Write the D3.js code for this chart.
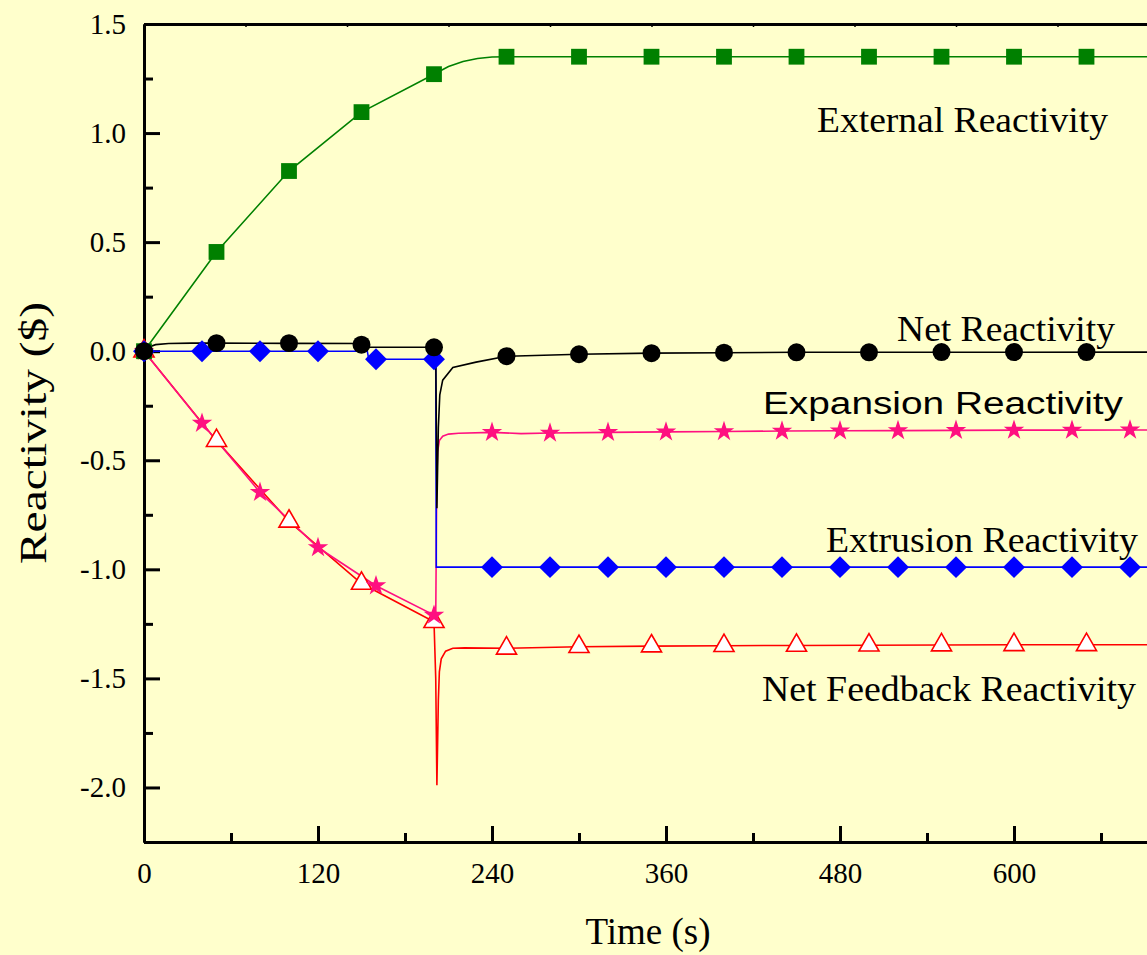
<!DOCTYPE html>
<html>
<head>
<meta charset="utf-8">
<script src="https://cdn.jsdelivr.net/npm/d3@7/dist/d3.min.js"></script>
<style>
  html, body { margin: 0; padding: 0; background: #FFFFCC; }
  svg { display: block; }
</style>
</head>
<body>
<div id="chart"></div>
<script>
// Marker times (s)
const T50 = [0, 50, 100, 150, 200, 250, 300, 350, 400, 450, 500, 550, 600, 650];
const T40 = [0, 40, 80, 120, 160, 200, 240, 280, 320, 360, 400, 440, 480, 520, 560, 600, 640, 680];

// External reactivity ($)
const extMarkV = [0, 0.455, 0.826, 1.096, 1.27, 1.35, 1.35, 1.35, 1.35, 1.35, 1.35, 1.35, 1.35, 1.35];
const extLineT = [0, 50, 100, 150, 200, 210, 220, 230, 240, 250, 750];
const extLineV = [0, 0.455, 0.826, 1.096, 1.27, 1.305, 1.328, 1.342, 1.349, 1.35, 1.35];

// Net reactivity ($)
const netMarkV = [0, 0.037, 0.037, 0.03, 0.018, -0.023, -0.014, -0.009, -0.007, -0.005, -0.005, -0.004, -0.004, -0.004];
const netLineT = [0, 3, 8, 17, 33, 50, 100, 154, 155, 200, 201.2, 202, 203, 204, 206, 213, 229, 250, 300, 350, 400, 450, 750];
const netLineV = [0, 0.018, 0.03, 0.035, 0.037, 0.037, 0.036, 0.035, 0.018, 0.018, 0.018, -0.72, -0.35, -0.2, -0.133, -0.075, -0.05, -0.023, -0.014, -0.009, -0.007, -0.005, -0.004];

// Extrusion reactivity ($)
const extrMarkV = [0, 0, 0, 0, -0.037, -0.037, -0.99, -0.99, -0.99, -0.99, -0.99, -0.99, -0.99, -0.99, -0.99, -0.99, -0.99, -0.99];
const extrLineT = [0, 154, 155, 201.2, 201.6, 750];
const extrLineV = [0, 0, -0.037, -0.037, -0.99, -0.99];

// Expansion reactivity ($)
const expMarkV = [0, -0.33, -0.647, -0.9, -1.075, -1.21, -0.372, -0.375, -0.372, -0.37, -0.368, -0.366, -0.365, -0.364, -0.363, -0.362, -0.362, -0.361];
const expLineT = [0, 40, 80, 120, 160, 200, 201.2, 201.9, 202.5, 203.7, 206, 210, 217, 240, 260, 280, 320, 360, 400, 440, 480, 520, 560, 600, 640, 680, 750];
const expLineV = [0, -0.33, -0.647, -0.9, -1.075, -1.21, -1.22, -0.6, -0.46, -0.41, -0.39, -0.38, -0.376, -0.372, -0.378, -0.375, -0.372, -0.37, -0.368, -0.366, -0.365, -0.364, -0.363, -0.362, -0.362, -0.361, -0.361];

// Net feedback reactivity ($)
const fbMarkV = [0, -0.41, -0.78, -1.065, -1.24, -1.362, -1.355, -1.352, -1.35, -1.349, -1.348, -1.347, -1.346, -1.346];
const fbLineT = [0, 50, 100, 150, 200, 201.2, 202, 203, 203.7, 205, 208, 213, 221, 250, 300, 350, 400, 450, 500, 550, 600, 650, 750];
const fbLineV = [0, -0.41, -0.78, -1.065, -1.24, -1.5, -1.99, -1.6, -1.47, -1.41, -1.375, -1.362, -1.36, -1.362, -1.355, -1.352, -1.35, -1.349, -1.348, -1.347, -1.346, -1.346, -1.345];

const xTicks = [0, 120, 240, 360, 480, 600];
const xMinor = [60, 180, 300, 420, 540, 660];
const xTop = [70, 140, 210, 280, 350, 420, 490, 560, 630, 700];
const yTicks = [1.5, 1.0, 0.5, 0.0, -0.5, -1.0, -1.5, -2.0];
const yMinor = [1.25, 0.75, 0.25, -0.25, -0.75, -1.25, -1.75, -2.25];

const W = 1147, H = 955;
const margin = { top: 24, left: 144 };
const plotW = 1087.5, plotH = 818;

const svg = d3.select('#chart').append('svg').attr('width', W).attr('height', H);
svg.append('rect').attr('width', W).attr('height', H).attr('fill', '#FFFFCC');

const x = d3.scaleLinear().domain([0, 750]).range([margin.left, margin.left + plotW]);
const y = d3.scaleLinear().domain([-2.25, 1.5]).range([margin.top + plotH, margin.top]);

const serif = '"Liberation Serif", "Times New Roman", serif';
const sans = '"Liberation Sans", Arial, sans-serif';

// Axes — ticks point inward
const styleAxis = ax => {
  ax.select('.domain').attr('stroke', '#000').attr('stroke-width', 3);
  ax.selectAll('.tick line').attr('stroke', '#000').attr('stroke-width', 3);
  ax.selectAll('text').attr('fill', '#000').style('font-family', serif).style('font-size', '29px');
};
const fmtY = d => d3.format('.1f')(d).replace('\u2212', '-');

svg.append('g').attr('transform', `translate(0,${y(-2.25)})`)
  .call(d3.axisBottom(x).tickValues(xMinor).tickSize(-9).tickSizeOuter(0).tickFormat(''))
  .call(styleAxis);
svg.append('g').attr('transform', `translate(0,${y(-2.25)})`)
  .call(d3.axisBottom(x).tickValues(xTicks).tickSize(-16).tickSizeOuter(0).tickPadding(20).tickFormat(d3.format('d')))
  .call(styleAxis);

svg.append('g').attr('transform', `translate(${x(0)},0)`)
  .call(d3.axisLeft(y).tickValues(yMinor).tickSize(-9).tickSizeOuter(0).tickFormat(''))
  .call(styleAxis);
svg.append('g').attr('transform', `translate(${x(0)},0)`)
  .call(d3.axisLeft(y).tickValues(yTicks).tickSize(-16).tickSizeOuter(0).tickPadding(18).tickFormat(fmtY))
  .call(styleAxis);

// Top frame with tiny ticks
svg.append('g').attr('transform', `translate(0,${y(1.5)})`)
  .call(d3.axisTop(x).tickValues(xTop).tickSize(-3).tickSizeOuter(0).tickFormat(''))
  .call(ax => {
    ax.select('.domain').attr('stroke', '#000').attr('stroke-width', 3);
    ax.selectAll('.tick line').attr('stroke', '#000').attr('stroke-width', 1.5);
  });

// Series
const zip = (ts, vs) => ts.map((t, i) => [t, vs[i]]);
const line = d3.line().x(d => x(d[0])).y(d => y(d[1]));

const diamond = d3.symbol().type(d3.symbolSquare).size(240)();
const series = [
  { color: '#FF0000', line: zip(fbLineT, fbLineV), marks: zip(T50, fbMarkV),
    sym: d3.symbol().type(d3.symbolTriangle).size(175)(), fill: '#FFFFFF', stroke: '#FF0000', rot: 0 },
  { color: '#FF1080', line: zip(expLineT, expLineV), marks: zip(T40, expMarkV),
    sym: d3.symbol().type(d3.symbolStar).size(130)(), fill: '#FF1080', stroke: 'none', rot: 0 },
  { color: '#008000', line: zip(extLineT, extLineV), marks: zip(T50, extMarkV),
    sym: d3.symbol().type(d3.symbolSquare).size(250)(), fill: '#008000', stroke: 'none', rot: 0 },
  { color: '#0000FF', line: zip(extrLineT, extrLineV), marks: zip(T40, extrMarkV),
    sym: diamond, fill: '#0000FF', stroke: 'none', rot: 45 },
  { color: '#000000', line: zip(netLineT, netLineV), marks: zip(T50, netMarkV),
    sym: d3.symbol().type(d3.symbolCircle).size(254)(), fill: '#000000', stroke: 'none', rot: 0 },
];

for (const s of series) {
  svg.append('path').datum(s.line)
    .attr('d', line).attr('fill', 'none').attr('stroke', s.color).attr('stroke-width', 1.6);
}
for (const s of series) {
  svg.append('g').selectAll('path').data(s.marks).join('path')
    .attr('d', s.sym)
    .attr('transform', d => `translate(${x(d[0])},${y(d[1])}) rotate(${s.rot})`)
    .attr('fill', s.fill)
    .attr('stroke', s.stroke).attr('stroke-width', 1.6);
}

// Series labels
const addLabel = (txt, px, py, len, font, size) => svg.append('text')
  .attr('x', px).attr('y', py).attr('textLength', len).attr('lengthAdjust', 'spacingAndGlyphs')
  .attr('fill', '#000').style('font-family', font).style('font-size', size + 'px').text(txt);

addLabel('External Reactivity', 817, 132, 291, serif, 36);
addLabel('Net Reactivity', 897, 341, 218, serif, 36);
addLabel('Expansion Reactivity', 763, 414, 360, sans, 31);
addLabel('Extrusion Reactivity', 826, 552, 312, serif, 36);
addLabel('Net Feedback Reactivity', 762, 701, 374, serif, 36);

// Axis titles
svg.append('text')
  .attr('transform', `translate(46,${433}) rotate(-90)`)
  .attr('text-anchor', 'middle').attr('fill', '#000')
  .attr('textLength', 262).attr('lengthAdjust', 'spacingAndGlyphs')
  .style('font-family', serif).style('font-size', '37px')
  .text('Reactivity ($)');

svg.append('text')
  .attr('x', 648).attr('y', 944)
  .attr('text-anchor', 'middle').attr('fill', '#000')
  .style('font-family', serif).style('font-size', '37px')
  .text('Time (s)');
</script>
</body>
</html>
